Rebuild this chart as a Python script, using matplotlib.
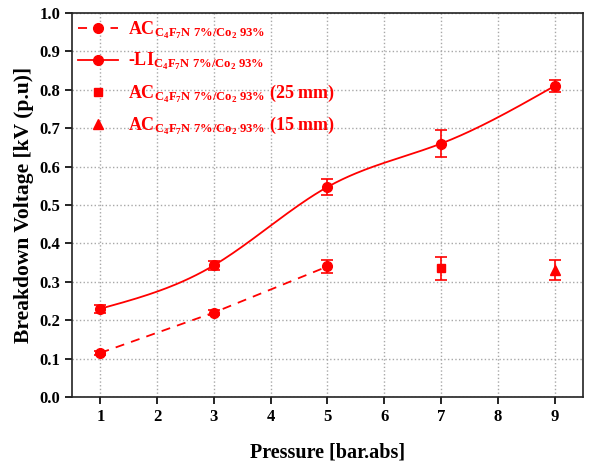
import numpy as np
import matplotlib
matplotlib.use("Agg")
import matplotlib.pyplot as plt

plt.rcParams['font.family'] = ['Liberation Serif', 'DejaVu Serif']
plt.rcParams['font.weight'] = 'bold'
plt.rcParams['mathtext.fontset'] = 'custom'
plt.rcParams['mathtext.rm'] = 'Liberation Serif:bold'
plt.rcParams['mathtext.it'] = 'Liberation Serif:bold'
plt.rcParams['mathtext.bf'] = 'Liberation Serif:bold'

# data
ac_p = [1, 3, 5]
ac_v = [0.115, 0.220, 0.340]
ac_err = [0.006, 0.006, 0.018]

li_p = [1, 3, 5, 7, 9]
li_v = [0.230, 0.343, 0.547, 0.660, 0.810]
li_err = [0.010, 0.012, 0.020, 0.035, 0.015]

sq_p = [7]
sq_v = [0.335]
sq_err = [0.030]

tri_p = [9]
tri_v = [0.332]
tri_err = [0.026]

red = '#ff0000'
gas = r'$_{\mathrm{C_4F_7N\ 7\%/Co_2\ 93\%}}$'


def natural_spline(x, y, n=200):
    # natural cubic spline through the points, like Origin's spline connect
    x = np.asarray(x, float)
    y = np.asarray(y, float)
    k = len(x)
    h = np.diff(x)
    A = np.zeros((k, k))
    b = np.zeros(k)
    A[0, 0] = A[-1, -1] = 1
    for i in range(1, k - 1):
        A[i, i - 1] = h[i - 1]
        A[i, i] = 2 * (h[i - 1] + h[i])
        A[i, i + 1] = h[i]
        b[i] = 6 * ((y[i + 1] - y[i]) / h[i] - (y[i] - y[i - 1]) / h[i - 1])
    M = np.linalg.solve(A, b)
    xs = np.linspace(x[0], x[-1], n)
    idx = np.clip(np.searchsorted(x, xs) - 1, 0, k - 2)
    x0, x1 = x[idx], x[idx + 1]
    hh = x1 - x0
    t0, t1 = x1 - xs, xs - x0
    ys = (M[idx] * t0**3 + M[idx + 1] * t1**3) / (6 * hh) \
        + (y[idx] / hh - M[idx] * hh / 6) * t0 \
        + (y[idx + 1] / hh - M[idx + 1] * hh / 6) * t1
    return xs, ys


fig = plt.figure(figsize=(5.9, 4.66), dpi=100)
ax = fig.add_axes([0.122, 0.148, 0.866, 0.824])

# AC dashed line
ax.plot(ac_p, ac_v, '--', color=red, lw=1.3, dashes=(5, 4))
ax.errorbar(ac_p, ac_v, yerr=ac_err, fmt='o', color=red, ms=7,
            capsize=4, elinewidth=1.2, capthick=1.2)

# LI spline line
sx, sy = natural_spline(li_p, li_v)
ax.plot(sx, sy, '-', color=red, lw=1.3)
ax.errorbar(li_p, li_v, yerr=li_err, fmt='o', color=red, ms=7,
            capsize=4, elinewidth=1.2, capthick=1.2)

ax.errorbar(sq_p, sq_v, yerr=sq_err, fmt='s', color=red, ms=6,
            capsize=4, elinewidth=1.2, capthick=1.2)
ax.errorbar(tri_p, tri_v, yerr=tri_err, fmt='^', color=red, ms=7,
            capsize=4, elinewidth=1.2, capthick=1.2)

# legend proxies
h1, = ax.plot([], [], '--o', color=red, ms=7, lw=1.3, dashes=(5, 4))
h2, = ax.plot([], [], '-o', color=red, ms=7, lw=1.3)
h3, = ax.plot([], [], 's', color=red, ms=6)
h4, = ax.plot([], [], '^', color=red, ms=7)
leg = ax.legend([h1, h2, h3, h4],
                ['AC' + gas, '-LI' + gas, 'AC' + gas + ' (25 mm)',
                 'AC' + gas + ' (15 mm)'],
                loc='upper left', frameon=False, fontsize=13,
                handlelength=2.2, labelspacing=0.55,
                borderaxespad=0.15, borderpad=0.2, handletextpad=0.55)
for t in leg.get_texts():
    t.set_color(red)

ax.set_xlim(0.5, 9.5)
ax.set_ylim(0, 1.0)
ax.set_xticks(range(1, 10))
ax.set_yticks(np.arange(0, 1.01, 0.1))
ax.set_yticklabels([f'{v:.1f}' for v in np.arange(0, 1.01, 0.1)])
ax.grid(True, linestyle=':', color='#a8a8a8', lw=1)
ax.tick_params(direction='out', length=5, width=1.2, labelsize=12)
for s in ax.spines.values():
    s.set_linewidth(1.2)
    s.set_color('#222222')

ax.set_xlabel('Pressure [bar.abs]', fontsize=14.5, fontweight='bold', labelpad=13)
ax.set_ylabel('Breakdown Voltage [kV (p.u)]', fontsize=15.5, fontweight='bold', labelpad=4)

fig.savefig('out.png', dpi=100)
